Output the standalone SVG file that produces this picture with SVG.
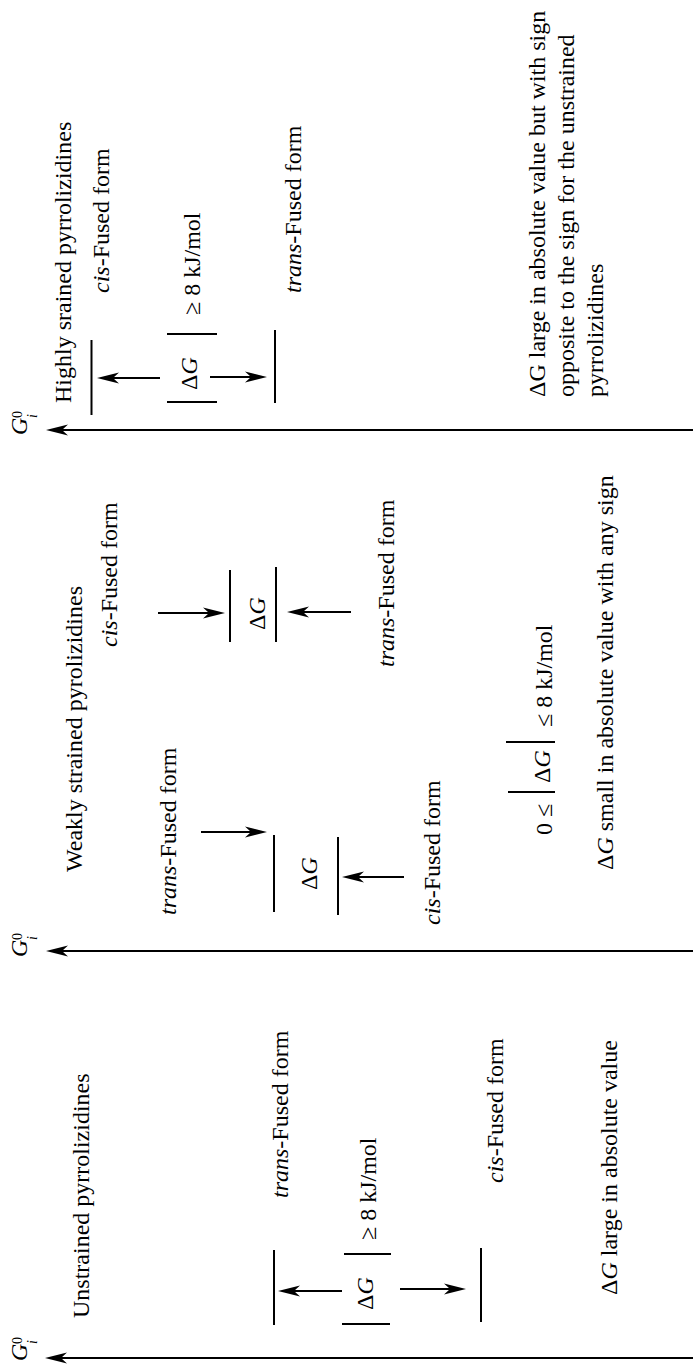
<svg xmlns="http://www.w3.org/2000/svg" width="693" height="1367" viewBox="0 0 693 1367">
<style>
.t{font-family:"Liberation Serif","Times New Roman",serif;font-size:24px;fill:#000}
.i{font-style:italic}
.s{font-family:"Liberation Serif","Times New Roman",serif;font-size:14px;fill:#000}
.ax{stroke:#000;stroke-width:2.2;fill:none}
.lv{stroke:#000;stroke-width:2;fill:none}
.ar{stroke:#000;stroke-width:2;fill:none;marker-end:url(#ah)}
</style>
<defs>
<marker id="ah" markerUnits="userSpaceOnUse" markerWidth="24" markerHeight="14" viewBox="0 -7 24 14" refX="8" refY="0" orient="auto"><path d="M22,0 L0,-5.5 L6,0 L0,5.5 Z" fill="#000"/></marker>
</defs>
<rect width="693" height="1367" fill="#fff"/>

<g id="connectors">
<line class="ar" x1="693" y1="430" x2="60" y2="430"/>
<line class="ar" x1="693" y1="951" x2="60" y2="951"/>
<line class="ar" x1="693" y1="1358" x2="59" y2="1358"/>
<line class="ar" x1="160" y1="378" x2="111" y2="378"/>
<line class="ar" x1="210" y1="377" x2="253" y2="377"/>
<line class="ar" x1="158" y1="613" x2="211" y2="613"/>
<line class="ar" x1="351" y1="612" x2="301" y2="612"/>
<line class="ar" x1="201" y1="832" x2="253" y2="832"/>
<line class="ar" x1="404" y1="877" x2="356" y2="877"/>
<line class="ar" x1="342" y1="1291" x2="292" y2="1291"/>
<line class="ar" x1="400" y1="1289" x2="452" y2="1289"/>
</g>

<g id="axis-labels">
<g id="g-top"><text class="t i" font-size="20" transform="translate(27 435) rotate(-90)">G</text><text class="s i" transform="translate(37 418) rotate(-90)">i</text><text class="s" transform="translate(22 418) rotate(-90)">0</text></g>
<g id="g-mid"><text class="t i" font-size="20" transform="translate(27 957) rotate(-90)">G</text><text class="s i" transform="translate(37 940) rotate(-90)">i</text><text class="s" transform="translate(22 940) rotate(-90)">0</text></g>
<g id="g-bot"><text class="t i" font-size="20" transform="translate(27 1361) rotate(-90)">G</text><text class="s i" transform="translate(37 1344) rotate(-90)">i</text><text class="s" transform="translate(22 1344) rotate(-90)">0</text></g>
</g>

<g id="panel-highly">
<text class="t" transform="translate(71 403) rotate(-90)">Highly srained pyrrolizidines</text>
<g id="h-cis-level"><line class="lv" x1="91.5" y1="340" x2="91.5" y2="415"/><text class="t" transform="translate(109 293) rotate(-90)"><tspan class="i">cis</tspan>-Fused form</text></g>
<g id="h-trans-level"><line class="lv" x1="275" y1="330" x2="275" y2="403"/><text class="t" transform="translate(301 293) rotate(-90)"><tspan class="i">trans</tspan>-Fused form</text></g>
<g id="h-dg"><line class="lv" x1="167" y1="402" x2="217" y2="402"/><line class="lv" x1="167" y1="334" x2="217" y2="334"/><text class="t" transform="translate(197 390) rotate(-90)">Δ<tspan class="i">G</tspan></text><text class="t" transform="translate(200 315) rotate(-90)">≥ 8 kJ/mol</text></g>
<g id="h-note"><text class="t" transform="translate(545 397) rotate(-90)">ΔG large in absolute value but with sign</text><text class="t" transform="translate(574 397) rotate(-90)">opposite to the sign for the unstrained</text><text class="t" transform="translate(603 397) rotate(-90)">pyrrolizidines</text></g>
</g>

<g id="panel-weakly">
<text class="t" transform="translate(82 872) rotate(-90)">Weakly strained pyrolizidines</text>
<g id="w-cis-upper"><line class="lv" x1="230" y1="570" x2="230" y2="642"/><text class="t" transform="translate(117 647) rotate(-90)"><tspan class="i">cis</tspan>-Fused form</text></g>
<g id="w-trans-upper"><line class="lv" x1="276" y1="567" x2="276" y2="642"/><text class="t" transform="translate(394 667) rotate(-90)"><tspan class="i">trans</tspan>-Fused form</text></g>
<text class="t" transform="translate(265 630) rotate(-90)">Δ<tspan class="i">G</tspan></text>
<g id="w-trans-lower"><line class="lv" x1="274" y1="835" x2="274" y2="912"/><text class="t" transform="translate(176 915) rotate(-90)"><tspan class="i">trans</tspan>-Fused form</text></g>
<g id="w-cis-lower"><line class="lv" x1="338" y1="837" x2="338" y2="915"/><text class="t" transform="translate(440 925) rotate(-90)"><tspan class="i">cis</tspan>-Fused form</text></g>
<text class="t" transform="translate(317 890) rotate(-90)">Δ<tspan class="i">G</tspan></text>
<g id="w-range"><line class="lv" x1="508" y1="792" x2="555" y2="792"/><line class="lv" x1="506" y1="742" x2="555" y2="742"/><text class="t" transform="translate(552 835) rotate(-90)">0 ≤</text><text class="t" transform="translate(550 783) rotate(-90)">Δ<tspan class="i">G</tspan></text><text class="t" transform="translate(552 727) rotate(-90)">≤  8 kJ/mol</text></g>
<text class="t" transform="translate(613 870) rotate(-90)">Δ<tspan class="i">G</tspan> small in absolute value with any sign</text>
</g>

<g id="panel-unstrained">
<text class="t" transform="translate(89 1318) rotate(-90)">Unstrained pyrrolizidines</text>
<g id="u-trans-level"><line class="lv" x1="274" y1="1250" x2="274" y2="1325"/><text class="t" transform="translate(288 1198) rotate(-90)"><tspan class="i">trans</tspan>-Fused form</text></g>
<g id="u-cis-level"><line class="lv" x1="481" y1="1248" x2="481" y2="1322"/><text class="t" transform="translate(503 1183) rotate(-90)"><tspan class="i">cis</tspan>-Fused form</text></g>
<g id="u-dg"><line class="lv" x1="344" y1="1254" x2="391" y2="1254"/><line class="lv" x1="342" y1="1324" x2="390" y2="1324"/><text class="t" transform="translate(373 1310) rotate(-90)">Δ<tspan class="i">G</tspan></text><text class="t" transform="translate(376 1240) rotate(-90)">≥ 8 kJ/mol</text></g>
<text class="t" transform="translate(617 1295) rotate(-90)">Δ<tspan class="i">G</tspan> large in absolute value</text>
</g>
</svg>
